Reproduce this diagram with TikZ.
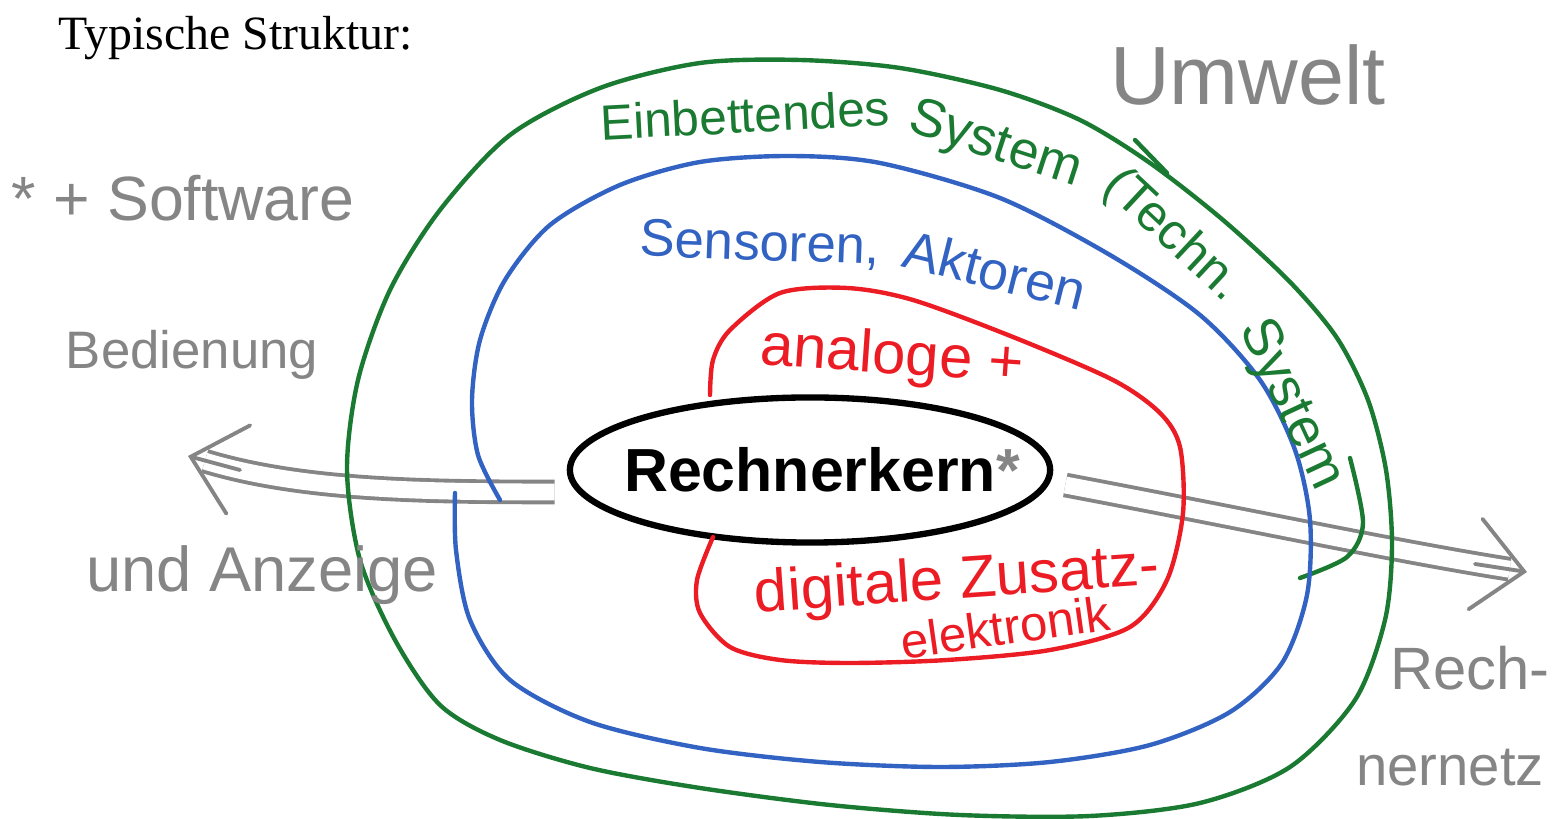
\documentclass[tikz,border=0pt]{standalone}
\usepackage{fontspec}
\setmainfont{Liberation Serif}
\newfontfamily\handfont{Liberation Sans}
\usetikzlibrary{arrows.meta,shapes.geometric,calc}

\definecolor{hgreen}{HTML}{1A7A32}
\definecolor{hblue}{HTML}{3263C2}
\definecolor{hred}{HTML}{EC1C24}
\definecolor{hgray}{HTML}{858585}

\begin{document}
\begin{tikzpicture}[x=0.01cm,y=-0.01cm,
    pen/.style={line width=1.25pt,line cap=round,line join=round},
    hand/.style={font=\handfont\fontsize{#1}{#1}\selectfont,inner sep=0pt},
    link/.style={line width=1.1pt,draw=hgray,double=white,double distance=4.8pt,shorten >=5pt},
    tip/.style={line width=1.1pt,draw=hgray,line cap=round,
      -{Straight Barb[length=14pt,width=26pt,line cap=round]}}]
  \useasboundingbox (0,0) rectangle (1554,819);

  % title
  \node[anchor=base west,inner sep=0pt,font=\fontsize{13.6}{16}\selectfont] (title) at (58,50) {Typische Struktur:};

  % computer core
  \node[ellipse,draw,line width=1.8pt,minimum width=4.8cm,minimum height=1.45cm,inner sep=0pt] (core) at (810,470) {};
  \node[hand=17.3] (corelabel) at (822,470) {\bfseries Rechnerkern\textcolor{hgray}{*}};

  % links to operator panel and network (drawn first, rings lie on top)
  \coordinate (bedend) at (188,456);
  \coordinate (bedstem) at (240,470);
  \coordinate (netzend) at (1527,572);
  \coordinate (netzstem) at (1475,564);
  \draw[link] ($(core.west)+(-12,22)$) .. controls (420,492) and (300,490) .. (bedend);
  \draw[link] ($(core.east)+(12,15)$) .. controls (1250,520) and (1400,552) .. (netzend);
  \draw[tip] (bedstem) -- (bedend);
  \draw[tip] (netzstem) -- (netzend);

  % embedding system (green)
  \draw[pen,hgreen] plot[smooth cycle] coordinates {
    (700,63) (800,60) (900,68) (1000,90) (1080,120) (1150,163) (1223,220)
    (1290,282) (1337,338) (1368,400) (1386,470) (1392,545) (1385,620)
    (1355,700) (1290,767) (1200,803) (1090,816) (960,815) (830,805)
    (700,788) (590,768) (500,740) (440,705) (395,640) (360,560) (347,470)
    (358,380) (390,290) (440,210) (510,135) (600,88)};
  \draw[pen,hgreen] (1135,140) -- (1167,173);
  \draw[pen,hgreen] plot[smooth] coordinates {(1350,458) (1363,523) (1347,557) (1300,578)};

  % sensors and actuators (blue)
  \draw[pen,hblue] plot[smooth] coordinates {
    (500,500) (478,455) (472,400) (480,340) (505,280) (550,225) (620,185)
    (700,162) (790,156) (880,163) (1000,198) (1110,255) (1200,315)
    (1260,380) (1295,450) (1310,520) (1307,595) (1282,663) (1230,712)
    (1150,745) (1050,762) (940,767) (820,762) (700,748) (590,722)
    (510,680) (470,620) (456,550) (455,493)};

  % analog and digital extra electronics (red)
  \draw[pen,hred] plot[smooth] coordinates {
    (710,395) (713,360) (730,330) (780,293) (847,288) (913,300) (1013,337)
    (1113,380) (1160,413) (1180,447) (1183,513) (1167,580) (1130,627)
    (1050,650) (947,660) (850,663) (780,660) (730,647) (700,613)
    (697,580) (713,537)};

  % labels
  \node[hand=14.1,text=hgreen,rotate=3] (einb) at (745,115) {Einbettendes};
  \node[hand=15.2,text=hgreen,rotate=-18] (sysa) at (995,146) {System};
  \node[hand=14.6,text=hgreen,rotate=-43] (techn) at (1172,236) {(Techn.};
  \node[hand=15.5,text=hgreen,rotate=-65] (sysb) at (1290,405) {System};
  \node[hand=15,text=hblue,rotate=-2] (sens) at (760,245) {Sensoren,};
  \node[hand=15.3,text=hblue,rotate=-14] (akt) at (995,270) {Aktoren};
  \node[hand=17,text=hred,rotate=-4] (analog) at (892,358) {analoge +};
  \node[hand=17,text=hred,rotate=4] (digital) at (957,583) {digitale Zusatz-};
  \node[hand=14,text=hred,rotate=8] (elektr) at (1005,627) {elektronik};
  \node[hand=17.8,text=hgray] (soft) at (183,198) {* + Software};
  \node[hand=15,text=hgray] (bed) at (192,355) {Bedienung};
  \node[hand=18,text=hgray] (anz) at (262,575) {und Anzeige};
  \node[hand=23.5,text=hgray] (umwelt) at (1248,75) {Umwelt};
  \node[hand=17,text=hgray] (rech) at (1470,668) {Rech-};
  \node[hand=16,text=hgray] (netz) at (1450,768) {nernetz};
\end{tikzpicture}
\end{document}
